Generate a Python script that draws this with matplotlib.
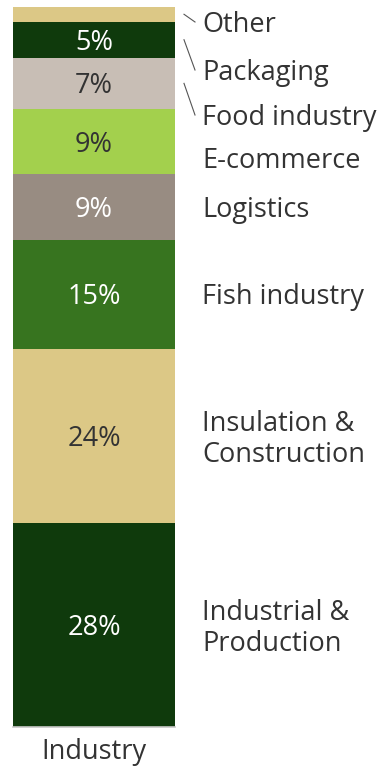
import matplotlib
matplotlib.use("Agg")
import matplotlib.pyplot as plt

categories = ["Industrial &\nProduction", "Insulation &\nConstruction", "Fish industry",
              "Logistics", "E-commerce", "Food industry", "Packaging", "Other"]
values = [28, 24, 15, 9, 9, 7, 5, 2]
pct_labels = ["28%", "24%", "15%", "9%", "9%", "7%", "5%", ""]
colors = ["#0F3A0C", "#DCC886", "#37741F", "#988C82", "#A3D04D", "#C8BEB5", "#0F3A0C", "#DCC886"]
text_colors = ["white", "#333333", "white", "white", "#333333", "#333333", "white", "white"]
x_label = "Industry"

plt.rcParams['font.family'] = ['Open Sans', 'DejaVu Sans']

fig = plt.figure(figsize=(3.83, 7.70), dpi=100)
W, H = 383, 770
ax = fig.add_axes([13 / W, (H - 727) / H, (175 - 13) / W, (727 - 7) / H])
total = sum(values)
ax.set_xlim(-0.5, 0.5)
ax.set_ylim(0, total)

def py(pix):
    return total - (pix - 7) / 720 * total

shift = 3 / 720 * total  # text vertical correction

bottom = 0
centers = []
for v, c, lab, tc in zip(values, colors, pct_labels, text_colors):
    ax.bar(0, v, width=1.0, bottom=bottom, color=c, edgecolor='none')
    mid = bottom + v / 2
    centers.append(mid)
    if lab:
        ax.text(0, mid - shift, lab, ha='center', va='center', color=tc, fontsize=19.5)
    bottom += v

ax.axis('off')
ax.plot([-0.5, 0.5], [0, 0], color='#C8C8C8', lw=1.2, clip_on=False)

label_y = {
    "Other": py(22),
    "Packaging": py(70),
    "Food industry": py(115),
    "E-commerce": py(158),
}
leader = {"Other", "Packaging", "Food industry"}
lx = (202 - 13) / 162 - 0.5
for cat, mid in zip(categories, centers):
    y = label_y.get(cat, mid)
    ax.text(lx, y - shift, cat, ha='left', va='center', color='#333333', fontsize=19.5,
            linespacing=1.15, clip_on=False)
    if cat in leader:
        x0 = (184 - 13) / 162 - 0.5
        x1 = (195 - 13) / 162 - 0.5
        ax.plot([x0, x1], [mid, y], color='#555555', lw=0.8, clip_on=False)

ax.text(0, py(752), x_label, ha='center', va='center',
        color='#333333', fontsize=19.5, clip_on=False)

fig.savefig("out.png", dpi=100)
